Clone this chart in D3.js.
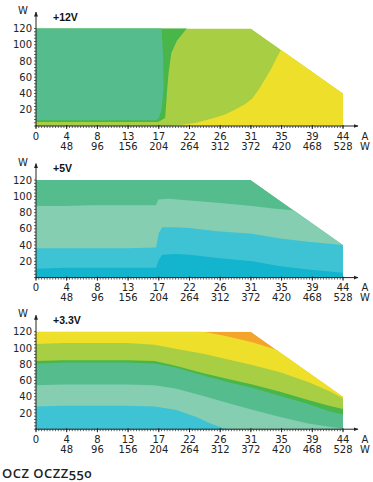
<!DOCTYPE html>
<html><head><meta charset="utf-8">
<script src="https://cdn.jsdelivr.net/npm/d3@7"></script>
<style>body{margin:0;background:#fff}svg{display:block}</style>
</head><body>
<svg id="c" width="373" height="482"></svg>
<script>
// ---- axis data ----
const ampTicks = [0, 4.4, 8.8, 13.2, 17.6, 22, 26.4, 30.8, 35.2, 39.6, 44];
const ampLabels = ["0","4","8","13","17","22","26","31","35","39","44"];
const wattLabels = ["","48","96","156","204","264","312","372","420","468","528"];
const yTicks = [20, 40, 60, 80, 100, 120];
const panelTitles = ["+12V", "+5V", "+3.3V"];
const footerText = "OCZ OCZZ550";

// load envelope (A, W)
const envelope = [[0,0],[0,120],[30.8,120],[44,40],[44,0]];

// ---- +12V regions (A, W) ----
const p12Yellow = [[19,0],[21,1.5],[23,4],[25,8.5],[27,14],[28.5,20],[30,27],[31,34],[32,46],[33,60],[33.8,72],[34.5,84],[35.2,95],[36,110],[37,130],[50,130],[50,0]];
const p12Green  = [[0,5],[17.5,5],[18.5,10],[18.6,20],[18.8,45],[19,65],[19.4,90],[20.2,105],[21.6,120],[21.6,130],[0,130]];
const p12Teal   = [[0,7],[17.2,7],[17.6,10],[18,20],[18.3,48],[18.2,89],[18,120],[18,130],[0,130]];

// ---- +5V band upper boundaries (A, W) ----
const p5LightTop = [[0,88],[4,88],[8,89],[13,89],[17.2,89],[17.5,96],[19,97],[22,95],[26,92],[31,88],[34,85],[38,82],[44,78]];
const p5CyanTop  = [[0,36],[4,36],[8,36],[13,36],[17.2,37],[17.6,55],[18.1,62],[20,62],[22,61],[26,57],[31,54],[35,48],[39,44],[44,40]];
const p5DeepTop  = [[0,11],[4,12],[8,12],[13,12],[17.2,12],[17.6,22],[18.1,28],[20,29],[22,28],[26,24],[31,20],[35,14],[39,10],[44,6]];

// ---- +3.3V band upper boundaries (A, W) ----
const p33YellowTop = [[0,125],[20,125],[24,120],[27,115],[31,107],[34,99],[38,90],[44,75]];
const p33YgTop     = [[0,105],[4,106],[8,106],[13,106],[17,104],[20,99],[24,93],[28,85],[31,79],[35,70],[39,58],[42,47],[44,38]];
const p33GreenTop  = [[0,84],[4,85],[8,85],[13,85],[17,84],[20,78],[24,69],[28,61],[31,55],[35,46],[39,36],[42,29],[44,25]];
const p33TealTop   = [[0,81],[4,82],[8,82],[13,82],[17,81],[20,76],[24,66],[28,57],[31,51],[35,41],[39,31],[42,22],[44,18]];
const p33LightTop  = [[0,54],[4,55],[8,55],[13,55],[17,54],[20,50],[24,41],[28,31],[31,24],[35,15],[39,7],[42,3],[44,1]];
const p33CyanTop   = [[0,28],[4,29],[8,29],[13,29],[17,28],[20,24],[23,15],[25,7],[27,1],[28,0],[44,0]];

const C = {
  teal:"#55BC8E", light:"#86CEB1", cyan:"#3EC3D5", deep:"#13B4CE",
  green:"#49B649", yg:"#A8CE44", yellow:"#EEDF2B", orange:"#F4A42A"
};

const below = pts => pts.concat([[50,0],[0,0]]);

const panels = [
  { base: C.yg, layers: [
      {c: C.yellow, p: p12Yellow},
      {c: C.green,  p: p12Green},
      {c: C.teal,   p: p12Teal}]},
  { base: C.teal, layers: [
      {c: C.light, p: below(p5LightTop)},
      {c: C.cyan,  p: below(p5CyanTop)},
      {c: C.deep,  p: below(p5DeepTop)}]},
  { base: C.orange, layers: [
      {c: C.yellow, p: below(p33YellowTop)},
      {c: C.yg,     p: below(p33YgTop)},
      {c: C.green,  p: below(p33GreenTop)},
      {c: C.teal,   p: below(p33TealTop)},
      {c: C.light,  p: below(p33LightTop)},
      {c: C.cyan,   p: below(p33CyanTop)}]}
];

const svg = d3.select("#c");
const x = d3.scaleLinear().domain([0, 44]).range([36, 343]);
const axisCol = "#222";
const font = "'DejaVu Sans', Verdana, sans-serif";

const defs = svg.append("defs");
defs.append("marker").attr("id","arr").attr("viewBox","0 0 10 10")
  .attr("refX",9).attr("refY",5).attr("markerWidth",5).attr("markerHeight",5)
  .attr("orient","auto")
  .append("path").attr("d","M0,1 L10,5 L0,9 Z").attr("fill",axisCol);

panels.forEach((pn, i) => {
  const y0 = 126 + 151.6 * i;
  const y = d3.scaleLinear().domain([0, 120]).range([y0, y0 - 97.5]);
  const line = d3.line().x(d => x(d[0])).y(d => y(d[1]));
  const g = svg.append("g");
  const cid = "clip" + i;
  defs.append("clipPath").attr("id", cid).append("path").attr("d", line(envelope) + "Z");
  const plot = g.append("g").attr("clip-path", `url(#${cid})`);
  plot.append("path").attr("d", line(envelope) + "Z").attr("fill", pn.base);
  pn.layers.forEach(l => {
    plot.append("path").attr("d", line(l.p) + "Z").attr("fill", l.c);
  });

  // minor ticks
  const xMinor = d3.range(0, 44.01, 0.4);
  g.selectAll(".xm").data(xMinor).join("line")
    .attr("x1", d => x(d)).attr("x2", d => x(d))
    .attr("y1", y0).attr("y2", y0 + 2)
    .attr("stroke", axisCol).attr("stroke-width", 0.7);
  const yMinor = d3.range(0, 120.01, 4);
  g.selectAll(".ym").data(yMinor).join("line")
    .attr("x1", x(0) - 2).attr("x2", x(0))
    .attr("y1", d => y(d)).attr("y2", d => y(d))
    .attr("stroke", axisCol).attr("stroke-width", 0.7);
  // major ticks
  g.selectAll(".xM").data(ampTicks).join("line")
    .attr("x1", d => x(d)).attr("x2", d => x(d))
    .attr("y1", y0 - 1).attr("y2", y0 + 3)
    .attr("stroke", axisCol).attr("stroke-width", 1);

  // axes lines with arrows
  g.append("line").attr("x1", x(0)).attr("x2", 358).attr("y1", y0).attr("y2", y0)
    .attr("stroke", axisCol).attr("stroke-width", 1).attr("marker-end", "url(#arr)");
  g.append("line").attr("x1", x(0)).attr("x2", x(0)).attr("y1", y0).attr("y2", y0 - 114)
    .attr("stroke", axisCol).attr("stroke-width", 1).attr("marker-end", "url(#arr)");

  // y labels
  g.selectAll(".yl").data(yTicks).join("text")
    .attr("x", 32).attr("y", d => y(d)).attr("dy", "0.36em")
    .attr("text-anchor", "end").attr("font-family", font).attr("font-size", 10)
    .attr("fill", "#222").text(d => d);
  // x labels
  g.selectAll(".xl").data(ampTicks).join("text")
    .attr("x", d => x(d)).attr("y", y0 + 13.5)
    .attr("text-anchor", "middle").attr("font-family", font).attr("font-size", 10)
    .attr("fill", "#222").text((d, k) => ampLabels[k]);
  g.selectAll(".wl").data(ampTicks).join("text")
    .attr("x", d => x(d)).attr("y", y0 + 23.5)
    .attr("text-anchor", "middle").attr("font-family", font).attr("font-size", 10)
    .attr("fill", "#222").text((d, k) => wattLabels[k]);
  g.append("text").attr("x", 365).attr("y", y0 + 13.5).attr("text-anchor", "middle")
    .attr("font-family", font).attr("font-size", 10).attr("fill", "#222").text("A");
  g.append("text").attr("x", 365).attr("y", y0 + 23.5).attr("text-anchor", "middle")
    .attr("font-family", font).attr("font-size", 10).attr("fill", "#222").text("W");
  g.append("text").attr("x", 23).attr("y", y0 - 112).attr("text-anchor", "middle")
    .attr("font-family", font).attr("font-size", 10).attr("fill", "#222").text("W");
  // title
  g.append("text").attr("x", 53).attr("y", y0 - 105.3)
    .attr("font-family", "'Liberation Sans', Arial, sans-serif").attr("font-weight", "bold")
    .attr("font-size", 10.5).attr("fill", "#111").text(panelTitles[i]);
});

svg.append("text").attr("x", 2).attr("y", 478)
  .attr("font-family", "'Open Sans', sans-serif").attr("font-weight", 600)
  .attr("font-size", 13).attr("letter-spacing", 0.5)
  .style("font-variant-numeric", "oldstyle-nums")
  .attr("fill", "#222").text(footerText);
</script>
</body></html>
